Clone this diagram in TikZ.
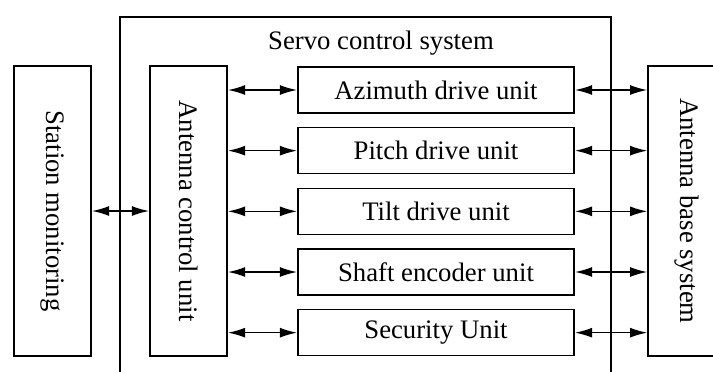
\documentclass[tikz,border=0pt]{standalone}
\usepackage{fontspec}
\setmainfont{Liberation Serif}
\usetikzlibrary{arrows.meta}

\begin{document}
\begin{tikzpicture}[
    font=\fontsize{22.8}{27}\selectfont,
    box/.style={draw, line width=1.4pt, inner sep=0pt},
    sidebox/.style={box, rotate=-90, minimum width=8.7cm, minimum height=2.31cm},
    unitbox/.style={box, minimum width=8.28cm, minimum height=1.38cm},
    link/.style={{Latex[length=0.52cm,width=0.3cm]}-{Latex[length=0.52cm,width=0.3cm]}, line width=1.4pt}
  ]
        \def\framew{1.4pt}
        \def\rowgap{1.82}

        \useasboundingbox (0,0) rectangle (21.39,11.13);

        % servo control system frame, open at the bottom
        \draw[line width=\framew] (3.6,-0.5) -- (3.6,10.62) -- (18.33,10.62) -- (18.33,-0.5);
        \node (servo) at (11.43,9.84) {Servo control system};

        \node[sidebox] (station) at (1.575,4.8) {Station monitoring};
        \node[sidebox] (acu) at (5.655,4.8) {Antenna control unit};
        \node[sidebox] (base) at (20.6,4.8) {Antenna base system};

        \draw[link] (station.north) -- (acu.south);

        \foreach \name/\txt [count=\i] in {azi/Azimuth drive unit, pitch/Pitch drive unit, tilt/Tilt drive unit, shaft/Shaft encoder unit, sec/Security Unit} {
            \node[unitbox] (\name) at (13.08, 10.25-\rowgap*\i) {\txt};
            \draw[link] (\name.west -| acu.north) -- (\name.west);
            \draw[link] (\name.east) -- (\name.east -| base.south);
        }
    \end{tikzpicture}
\end{document}
